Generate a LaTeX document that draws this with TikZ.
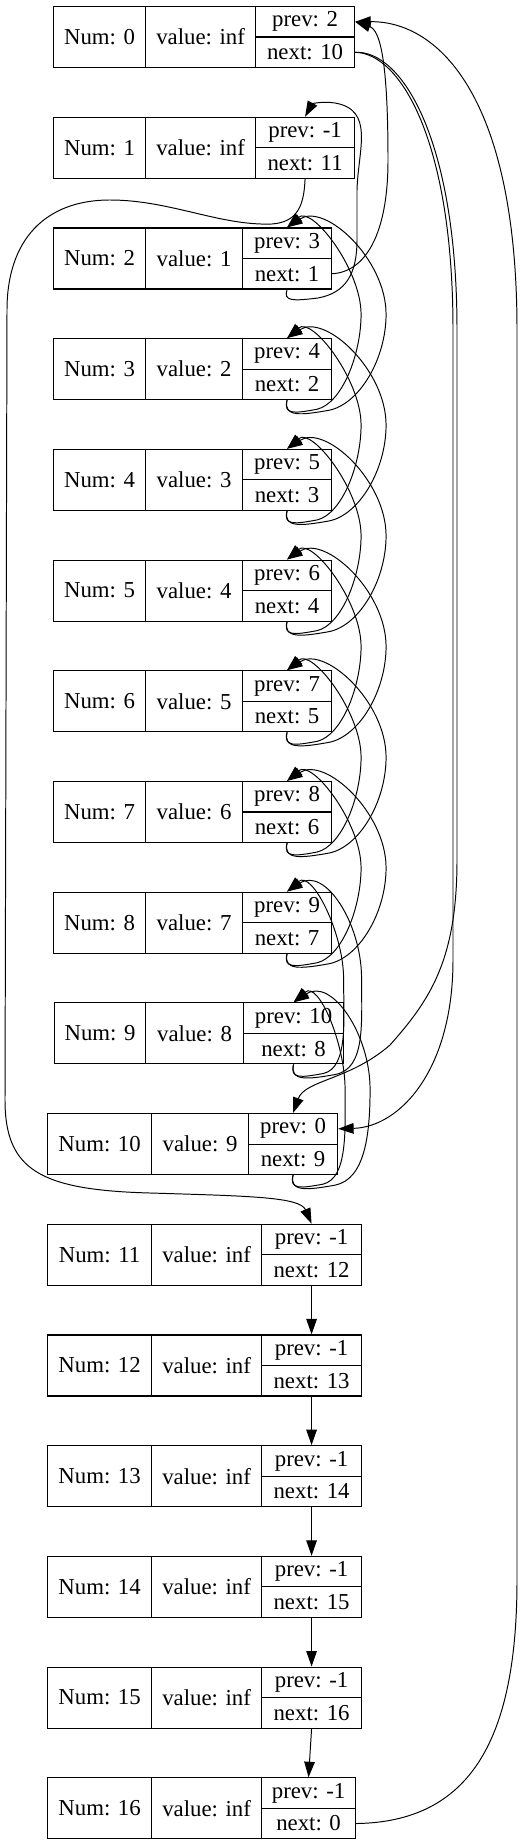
\documentclass[tikz,border=0pt]{standalone}
\usepackage{fontspec}
\setmainfont{Liberation Serif}
\usetikzlibrary{arrows.meta}
\tikzset{
	cell/.style={draw, line width=0.7pt, inner sep=0pt, anchor=north west, font=\fontsize{14}{16}\selectfont},
	edge/.style={-{Triangle[length=9.5pt,width=6.5pt]}, line width=0.6pt},
}
\begin{document}
\begin{tikzpicture}[x=0.614pt, y=-0.614pt]
	\def\un{0.614pt}
	\def\hh{61}
	\useasboundingbox (0,0) rectangle (525,1844);
	\foreach \i/\xa/\xb/\xc/\xd/\val/\pv/\nx in {0/53/145/255/354/inf/2/10, 1/53/145/255/354/inf/-1/11,
		2/53/145/242/331/1/3/1, 3/53/145/242/331/2/4/2, 4/53/145/242/331/3/5/3, 5/53/145/242/331/4/6/4,
		6/53/145/242/331/5/7/5, 7/53/145/242/331/6/8/6, 8/53/145/242/331/7/9/7, 9/54/145/243/343/8/10/8,
		10/47/151/248/337/9/0/9, 11/47/151/261/361/inf/-1/12, 12/47/151/261/361/inf/-1/13,
		13/47/151/261/361/inf/-1/14, 14/47/151/261/361/inf/-1/15, 15/47/151/261/361/inf/-1/16,
		16/47/151/261/355/inf/-1/0}{
		\pgfmathsetmacro{\ty}{6+110.7*\i}
		\pgfmathsetmacro{\tm}{\ty+\hh/2}
		\node[cell, minimum width={(\xb-\xa)*\un}, minimum height={\hh*\un}] (n\i-num) at (\xa,\ty) {Num: \i};
		\node[cell, minimum width={(\xc-\xb)*\un}, minimum height={\hh*\un}] (n\i-val) at (\xb,\ty) {value: \val};
		\node[cell, minimum width={(\xd-\xc)*\un}, minimum height={\hh*\un/2}] (n\i-prev) at (\xc,\ty) {prev: \pv};
		\node[cell, minimum width={(\xd-\xc)*\un}, minimum height={\hh*\un/2}] (n\i-next) at (\xc,\tm) {next: \nx};
	}
	\foreach \a/\b/\di/\dq in {3/2/74/99, 4/3/74/99, 5/4/74/99, 6/5/74/99, 7/6/74/99, 8/7/74/99, 9/8/50/68, 10/9/52/77}{
		\draw[edge] (n\a-next.south) .. controls +(-4,15) and +(-22,4) .. ++(30,9) .. controls +(25,-6) and +(0,40) .. ++(\di-30,-95) .. controls +(0,-45) and +(25,-22) .. (n\b-prev.north);
		\draw[edge] (n\a-next.south) .. controls +(-4,17) and +(-28,5) .. ++(42,10) .. controls +(30,-6) and +(0,45) .. ++(\dq-42,-96) .. controls +(0,-55) and +(38,-25) .. (n\b-prev.north);
	}
	\foreach \a/\b in {11/12, 12/13, 13/14, 14/15, 15/16}
		\draw[edge] (n\a-next.south) -- (n\b-prev.north);
	\draw[edge] (n0-next.east) .. controls (400,53) and (453,140) .. (453,330) -- (453,960) .. controls (453,1070) and (400,1127) .. (n10-prev.east);
	\draw[edge] (n0-next.east) .. controls (402,50) and (457,140) .. (457,330) -- (457,860) .. controls (457,960) and (430,1000) .. (390,1045) .. controls (350,1080) and (305,1080) .. (n10-prev.north);
	\draw[edge] (n2-next.east) .. controls (365,272) and (388,235) .. (388,160) .. controls (388,60) and (380,30) .. (n0-prev.east);
	\draw[edge] (n16-next.east) .. controls (470,1822) and (517,1740) .. (517,1580) -- (517,330) .. controls (517,100) and (440,21) .. (n0-prev.east);
	\draw[edge] (n2-next.south) .. controls +(-4,12) and +(-25,3) .. (318,298) .. controls (345,293) and (357,275) .. (357,240) -- (357,190) .. controls (358,150) and (375,110) .. (335,103) .. controls (322,101) and (312,104) .. (n1-prev.north);
	\draw[edge] (n1-next.south) .. controls (304,205) and (298,222) .. (272,224) .. controls (220,226) and (170,200) .. (110,200) .. controls (45,200) and (7,240) .. (7,310) -- (5,1100) .. controls (5,1170) and (40,1190) .. (150,1193) .. controls (250,1196) and (300,1197) .. (n11-prev.north);
\end{tikzpicture}
\end{document}
